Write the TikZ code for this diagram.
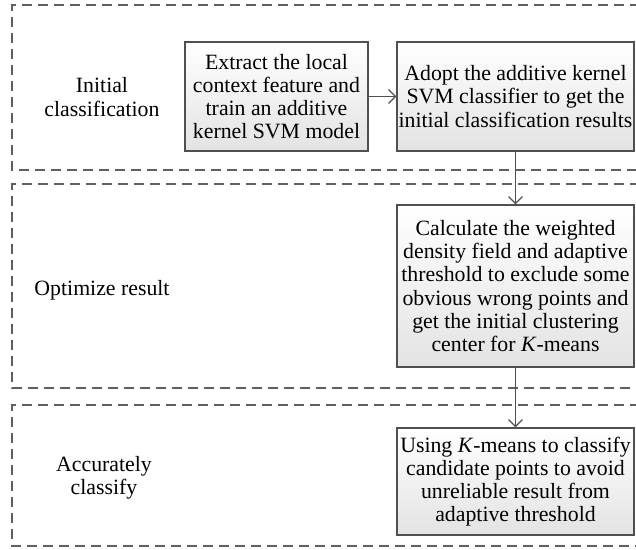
\documentclass[tikz,border=0pt]{standalone}
\usepackage{fontspec}
\setmainfont{LiberationSerif}[Extension=.ttf, UprightFont=*-Regular, ItalicFont=*-Italic, BoldFont=*-Bold, BoldItalicFont=*-BoldItalic]
\usetikzlibrary{positioning,arrows.meta}

\definecolor{framegray}{RGB}{95,95,95}
\definecolor{boxgray}{RGB}{80,80,80}

\begin{document}
\begin{tikzpicture}[x=0.5pt,y=-0.5pt,
	every node/.style={font=\rmfamily\fontsize{10.9}{11.6}\selectfont, align=center},
	stepbox/.style={draw=boxgray, line width=0.6pt, top color=white, bottom color=black!11, inner sep=0pt, minimum height=#1},
	panel/.style={draw=framegray, line width=0.75pt, dash pattern=on 5pt off 3pt},
	flow/.style={draw=boxgray, line width=0.6pt, -{Straight Barb[length=3.5pt,width=7pt]}}]

	\useasboundingbox (0,0) rectangle (636,550);

	%dashed stages, open on the right
	\draw[panel] (640,5) -- (12,5) -- (12,170) -- (640,170);
	\draw[panel] (640,184) -- (12,184) -- (12,388) -- (640,388);
	\draw[panel] (640,405) -- (12,405) -- (12,546) -- (640,546);

	%stage names
	\node (s1) at (102,97) {Initial\\classification};
	\node (s2) at (102,290) {Optimize result};
	\node (s3) at (104,478) {Accurately\\classify};

	%steps
	\node [stepbox=54.5pt, minimum width=91.5pt] (b1) at (276.5,96.5) {Extract the local\\context feature and\\train an additive\\kernel SVM model};
	\node [stepbox=54.5pt, minimum width=118.5pt] (b2) at (515.5,96.5) {Adopt the additive kernel\\SVM classifier to get the\\initial classification results};
	\node [stepbox=81pt, minimum width=118.5pt] (b3) at (515.5,286) {Calculate the weighted\\density field and adaptive\\threshold to exclude some\\obvious wrong points and\\get the initial clustering\\center for \textit{K}-means};
	\node [stepbox=53.5pt, minimum width=118.5pt] (b4) at (515.5,481.5) {Using \textit{K}-means to classify\\candidate points to avoid\\unreliable result from\\adaptive threshold};

	%edges
	\draw[flow] (b1) -- (b2);
	\draw[flow] (b2) -- (b3);
	\draw[flow] (b3) -- (b4);
\end{tikzpicture}
\end{document}
